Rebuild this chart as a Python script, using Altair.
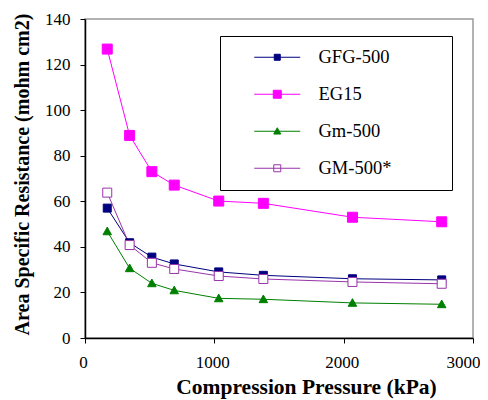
import altair as alt
import pandas as pd

pressure = [172, 345, 517, 690, 1034, 1379, 2068, 2758]
series_names = ["GFG-500", "EG15", "Gm-500", "GM-500*"]
gfg500 = [57.0, 41.8, 35.5, 32.5, 29.0, 27.5, 26.0, 25.5]
eg15 = [126.8, 88.9, 73.0, 67.1, 60.1, 59.1, 53.0, 51.0]
gm500 = [46.8, 30.6, 24.0, 20.9, 17.4, 17.0, 15.4, 14.8]
gm500s = [63.8, 40.8, 33.0, 30.3, 27.2, 25.9, 24.6, 23.8]
colors = ["#000080", "#FF00FF", "#008000", "#9933AA"]
fills = ["#000080", "#FF00FF", "#008000", "white"]

rows = []
for name, vals in zip(series_names, [gfg500, eg15, gm500, gm500s]):
    for p, v in zip(pressure, vals):
        rows.append({"Pressure": p, "ASR": v, "Series": name})
df = pd.DataFrame(rows)

FONT = "Times New Roman, Liberation Serif, serif"

def sq(h):
    return f"M{-h},{-h}H{h}V{h}H{-h}Z"

def tri(h):
    return f"M0,{-h}L{h},{h*0.8}H{-h}Z"

plot_shapes = [sq(0.8), sq(1.0), tri(0.85), sq(0.9)]
line = "M-4.6,0H4.6"
legend_shapes = [line + sq(0.6), line + sq(0.8), line + tri(0.7), line + sq(0.7)]

x = alt.X("Pressure:Q", scale=alt.Scale(domain=[0, 3000]),
          axis=alt.Axis(values=[0, 1000, 2000, 3000], format="d", labelFlush=False,
                        labelAlign={"expr": "datum.value == 3000 ? 'right' : 'center'"},
                        labelOffset={"expr": "datum.value == 3000 ? 7 : -2"},
                        titleX=221, title="Compression Pressure (kPa)"))
y = alt.Y("ASR:Q", scale=alt.Scale(domain=[0, 140]),
          axis=alt.Axis(values=list(range(0, 141, 20)), format="d", labelFlush=False,
                        titleY=155, title="Area Specific Resistance (mohm cm2)"))

color_scale = alt.Scale(domain=series_names, range=colors)
fill_scale = alt.Scale(domain=series_names, range=fills)

lines = alt.Chart(df).mark_line(strokeWidth=1).encode(
    x=x, y=y,
    color=alt.Color("Series:N", scale=color_scale, legend=None),
    detail="Series:N",
)

points = alt.Chart(df).mark_point(filled=False, size=100, strokeWidth=1, opacity=1).encode(
    x=x, y=y,
    color=alt.Color("Series:N", scale=color_scale, legend=None),
    fill=alt.Fill("Series:N", scale=fill_scale, legend=None),
    shape=alt.Shape("Series:N", scale=alt.Scale(domain=series_names, range=plot_shapes), legend=None),
)

leg = alt.Legend(
    title="MM", titleOrient="right", titleOpacity=0, titleFont=FONT, titleFontSize=18,
    titlePadding=15,
    orient="none", legendX=135, legendY=17,
    strokeColor="black", fillColor="white", padding=12,
    symbolOffset=36, labelOffset=32, rowPadding=18,
    symbolSize=100, symbolStrokeWidth=1, symbolOpacity=1,
    labelFont=FONT, labelFontSize=18.5, labelColor="black", labelLimit=300,
)

legend_layer = alt.Chart(df).mark_point(filled=False, size=100, opacity=0).encode(
    x=x, y=y,
    color=alt.Color("Series:N", scale=color_scale, legend=leg),
    fill=alt.Fill("Series:N", scale=fill_scale, legend=leg),
    shape=alt.Shape("Series:N", scale=alt.Scale(domain=series_names, range=legend_shapes), legend=leg),
)

chart = alt.layer(lines, points, legend_layer).resolve_scale(
    shape="independent", color="independent", fill="independent"
).properties(
    width=388, height=319,
    autosize=alt.AutoSizeParams(type="none"),
    padding={"left": 77, "top": 11, "right": 7, "bottom": 62},
).configure_view(
    stroke="#999999", strokeWidth=1.5
).configure_axis(
    grid=False, domainColor="black", tickColor="black", tickSize=5,
    domainWidth=1.5, tickWidth=1,
    labelFont=FONT, labelFontSize=17, labelColor="black",
    titleFont=FONT, titleFontWeight="bold", titleColor="black",
    labelPadding=10,
).configure_axisY(
    titleFontSize=20, titlePadding=12,
).configure_axisX(
    titleFontSize=21.5, labelPadding=11, titlePadding=6,
)

chart.save("out.html", embed_options={"renderer": "svg", "actions": False})
